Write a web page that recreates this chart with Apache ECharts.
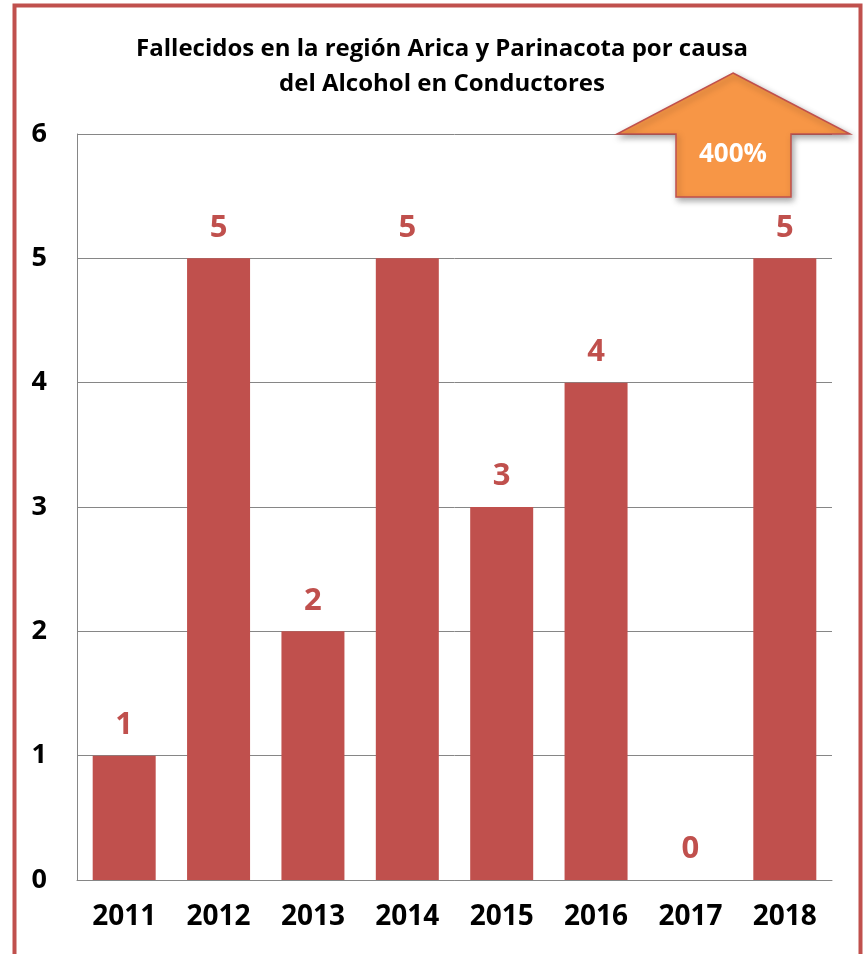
<!DOCTYPE html>
<html>
<head>
<meta charset="utf-8">
<script src="https://cdn.jsdelivr.net/npm/echarts@6/dist/echarts.min.js"></script>
<style>
  html, body { margin: 0; padding: 0; background: #fff; }
  #chart { width: 868px; height: 954px; }
</style>
</head>
<body>
<div id="chart"></div>
<script>
const years = ['2011', '2012', '2013', '2014', '2015', '2016', '2017', '2018']
const fallecidos = [1, 5, 2, 5, 3, 4, 0, 5]
const yTicks = [0, 1, 2, 3, 4, 5, 6]

const font = '"Open Sans", "Noto Sans", sans-serif'
const red = '#C0504D'

const chart = echarts.init(document.getElementById('chart'))

const option = {
  backgroundColor: '#fff',
  animation: false,
  title: {
    text: 'Fallecidos en la región Arica y Parinacota por causa\ndel Alcohol en Conductores',
    left: 437,
    textAlign: 'center',
    top: 27,
    textStyle: {
      fontFamily: font,
      fontWeight: 'bold',
      fontSize: 24,
      lineHeight: 35,
      color: '#000'
    }
  },
  grid: { left: 77, right: 36, top: 134, bottom: 74 },
  xAxis: {
    type: 'category',
    data: years,
    axisLine: { lineStyle: { color: '#868686', width: 1 } },
    axisTick: { show: false },
    axisLabel: {
      margin: 23,
      fontFamily: font,
      fontWeight: 'bold',
      fontSize: 28,
      color: '#000'
    }
  },
  yAxis: {
    type: 'value',
    min: yTicks[0],
    max: yTicks[yTicks.length - 1],
    interval: 1,
    axisLine: { show: true, lineStyle: { color: '#868686', width: 1 } },
    axisTick: { show: false },
    splitLine: { lineStyle: { color: '#868686', width: 1 } },
    axisLabel: {
      margin: 30,
      fontFamily: font,
      fontWeight: 'bold',
      fontSize: 27,
      color: '#000'
    }
  },
  series: [
    {
      name: 'Fallecidos',
      type: 'bar',
      data: fallecidos,
      barWidth: 63,
      itemStyle: { color: red },
      label: {
        show: true,
        position: 'top',
        distance: 15,
        fontFamily: font,
        fontWeight: 'bold',
        fontSize: 31,
        color: red
      }
    }
  ],
  graphic: [
    {
      type: 'rect',
      shape: { x: 14.5, y: 5.5, width: 846, height: 952 },
      style: { fill: 'none', stroke: red, lineWidth: 4 },
      z: 100
    },
    {
      type: 'polygon',
      shape: {
        points: [[733, 73], [850, 134], [791, 134], [791, 197], [676, 197], [676, 134], [617, 134]]
      },
      style: {
        fill: '#F79646',
        stroke: red,
        lineWidth: 1.5,
        shadowBlur: 6,
        shadowOffsetX: 2,
        shadowOffsetY: 3,
        shadowColor: 'rgba(0,0,0,0.35)'
      },
      z: 50
    },
    {
      type: 'text',
      x: 733,
      y: 155,
      style: {
        text: '400%',
        fill: '#fff',
        font: 'bold 26px "Open Sans", sans-serif',
        align: 'center',
        verticalAlign: 'middle'
      },
      z: 51
    }
  ]
}

chart.setOption(option)
</script>
</body>
</html>
